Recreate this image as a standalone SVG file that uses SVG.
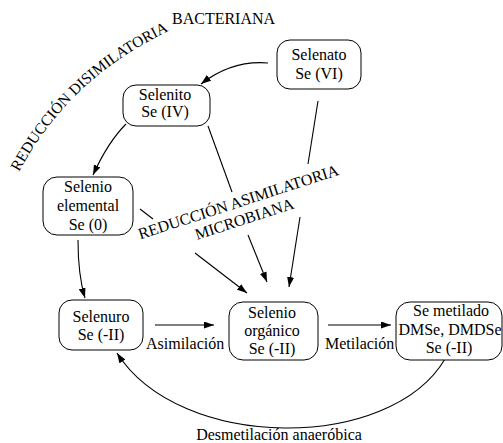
<svg xmlns="http://www.w3.org/2000/svg" width="503" height="443" viewBox="0 0 503 443" font-family="'Liberation Serif', 'DejaVu Serif', serif" font-size="16">
<style>
text{font-family:'Liberation Serif','DejaVu Serif',serif;font-size:16px;fill:#000}
.n text{text-anchor:middle}
.box{fill:#fff;stroke:#000;stroke-width:1}
.c{fill:none;stroke:#000;stroke-width:1.1}
.arc{font-size:15.5px}
</style>
<defs>
<marker id="ah" markerWidth="10" markerHeight="7" refX="10" refY="3.5" orient="auto" markerUnits="userSpaceOnUse">
<path d="M0,0 L10,3.5 L0,7 z" fill="#000"/>
</marker>
<path id="arc1" d="M 19,172 Q 70,76 175,28"/>
</defs>
<rect width="503" height="443" fill="#fff"/>
<g id="connectors">
<path class="c" d="M 268,63 Q 232,60 201,84" marker-end="url(#ah)"/>
<path class="c" d="M 126,124 Q 108,142 93,175" marker-end="url(#ah)"/>
<path class="c" d="M 208,126 L 232,192"/>
<path class="c" d="M 248,235 L 267,282" marker-end="url(#ah)"/>
<path class="c" d="M 318,101 L 308,164"/>
<path class="c" d="M 300,217 L 289,287" marker-end="url(#ah)"/>
<path class="c" d="M 140,209 L 153,219"/>
<path class="c" d="M 195,253 L 247,293" marker-end="url(#ah)"/>
<path class="c" d="M 78,240 Q 78,275 85,298" marker-end="url(#ah)"/>
<path class="c" d="M 155,325 L 214,325" marker-end="url(#ah)"/>
<path class="c" d="M 328,325 L 391,325" marker-end="url(#ah)"/>
<path class="c" d="M 445,359 C 390,452 180,452 117,353" marker-end="url(#ah)"/>
</g>
<g id="selenato" class="n">
<rect class="box" x="277" y="40" width="84" height="49" rx="13"/>
<text x="319" y="60">Selenato</text>
<text x="319" y="79">Se (VI)</text>
</g>
<g id="selenito" class="n">
<rect class="box" x="123" y="85" width="87" height="41" rx="13"/>
<text x="165" y="100">Selenito</text>
<text x="165" y="117">Se (IV)</text>
</g>
<g id="elemental" class="n">
<rect class="box" x="43" y="177" width="90" height="58" rx="14"/>
<text x="88" y="192">Selenio</text>
<text x="88" y="211">elemental</text>
<text x="88" y="230">Se (0)</text>
</g>
<g id="selenuro" class="n">
<rect class="box" x="59" y="300" width="84" height="50" rx="13"/>
<text x="101" y="322">Selenuro</text>
<text x="101" y="340">Se (-II)</text>
</g>
<g id="organico" class="n">
<rect class="box" x="229" y="302" width="89" height="58" rx="14"/>
<text x="272" y="318">Selenio</text>
<text x="272" y="336">orgánico</text>
<text x="272" y="354">Se (-II)</text>
</g>
<g id="metilado" class="n">
<rect class="box" x="396" y="302" width="106" height="58" rx="14"/>
<text x="451" y="316">Se metilado</text>
<text x="450" y="335">DMSe, DMDSe</text>
<text x="449" y="353">Se (-II)</text>
</g>
<g id="labels">
<text x="146" y="349">Asimilación</text>
<text x="325" y="349">Metilación</text>
<text x="279" y="440" text-anchor="middle">Desmetilación anaeróbica</text>
<text x="172" y="24">BACTERIANA</text>
<text class="arc"><textPath href="#arc1">REDUCCIÓN</textPath></text>
<text class="arc"><textPath href="#arc1" startOffset="94.3">DISIMI</textPath></text>
<text class="arc"><textPath href="#arc1" startOffset="143.4">LATORIA</textPath></text>
<text transform="translate(240,207) rotate(-18)" text-anchor="middle">REDUCCIÓN ASIMILATORIA</text>
<text transform="translate(246,224) rotate(-18)" text-anchor="middle">MICROBIANA</text>
</g>
</svg>
